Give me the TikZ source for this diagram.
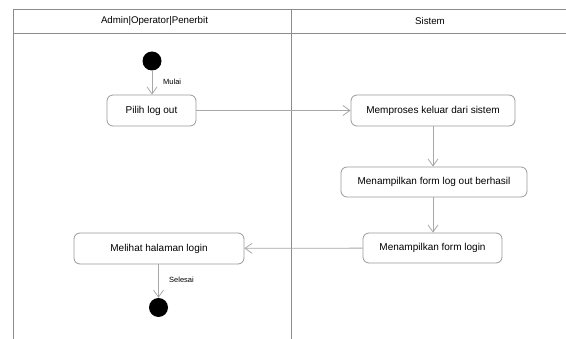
\documentclass[tikz,border=0pt]{standalone}
\usepackage{fontspec}
\setmainfont{Liberation Sans}
\usetikzlibrary{arrows.meta}
\definecolor{boxline}{HTML}{9A9A9A}
\definecolor{arrline}{HTML}{A8A8A8}
\definecolor{frameline}{HTML}{8C8C8C}
\tikzset{
  act/.style={draw=boxline, line width=0.8pt, rounded corners=6pt, fill=white, inner sep=0pt, font=\fontsize{10}{12}\selectfont},
  flow/.style={draw=arrline, line width=0.8pt, -{Straight Barb[length=7pt,width=10pt]}},
  dot/.style={circle, fill=black, inner sep=0pt, minimum size=19pt},
  lbl/.style={font=\fontsize{7.5}{9}\selectfont, inner sep=0pt},
  lane/.style={draw=frameline, line width=0.7pt},
  head/.style={font=\fontsize{9.7}{11}\selectfont}
}
\begin{document}
\begin{tikzpicture}[x=1pt,y=-1pt]
\useasboundingbox (0,0) rectangle (566,339);
% frame
\coordinate (tl) at (13,9);
\coordinate (tr) at (566,9);
\coordinate (hl) at (13,33.5);
\coordinate (hr) at (566,33.5);
\coordinate (bl) at (13,339);
\coordinate (dt) at (291.5,9);
\coordinate (db) at (291.5,339);
\draw[lane] (tr) -- (tl) -- (bl);
\draw[lane] (hl) -- (hr);
\draw[lane] (dt) -- (db);
\node[head] (h1) at (154.5,21) {Admin|Operator|Penerbit};
\node[head] (h2) at (430,21) {Sistem};
% nodes
\node[dot] (start) at (152,61) {};
\node[act, minimum width=89pt, minimum height=31pt] (a1) at (151.5,110.5) {Pilih log out};
\node[act, minimum width=164pt, minimum height=31pt] (a2) at (433,110.5) {Memproses keluar dari sistem};
\node[act, minimum width=186pt, minimum height=30pt] (a3) at (434,182) {Menampilkan form log out berhasil};
\node[act, minimum width=139pt, minimum height=30pt] (a4) at (432.5,248) {Menampilkan form login};
\node[act, minimum width=170pt, minimum height=31pt] (a5) at (159,248.5) {Melihat halaman login};
\node[dot] (end) at (158.5,307.5) {};
% flows
\draw[flow] (start) -- (start|-a1.north);
\node[lbl, anchor=west] (m) at (163,82) {Mulai};
\draw[flow] (a1) -- (a2);
\draw[flow] (a2.south) -- (a2.south|-a3.north);
\draw[flow] (a2.south|-a3.south) -- (a2.south|-a4.north);
\draw[flow] (a4) -- (a5);
\draw[flow] (a5.south-|end) -- (end);
\node[lbl, anchor=west] (s) at (169,280) {Selesai};
\end{tikzpicture}
\end{document}
